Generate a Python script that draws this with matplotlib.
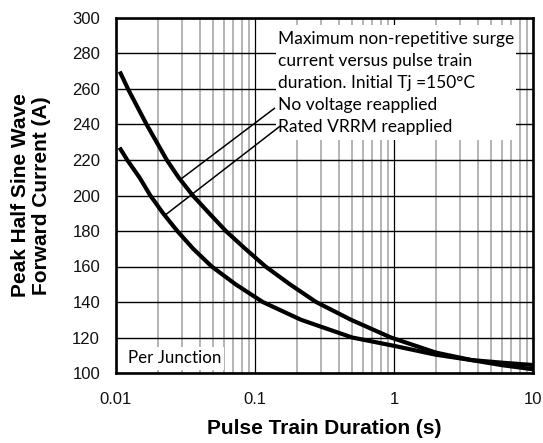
import matplotlib
matplotlib.use("Agg")
import matplotlib.pyplot as plt
from matplotlib.patches import Rectangle

plt.rcParams["font.family"] = "Liberation Sans"

no_volt_t = [0.0108, 0.0122, 0.0166, 0.0232, 0.0283, 0.0357, 0.0468, 0.0617, 0.0851,
             0.119, 0.178, 0.275, 0.49, 0.95, 2.0, 3.6, 6.0, 10.0]
no_volt_i = [268.8, 260, 240, 220, 210, 200, 190, 180, 170,
             160, 150, 140, 130, 120, 111.5, 107.3, 104.4, 102.1]

rated_t = [0.0108, 0.01205, 0.0148, 0.01766, 0.0218, 0.0276, 0.0359, 0.0488, 0.0724,
           0.1137, 0.214, 0.5, 1.0, 2.0, 3.6, 6.0, 10.0]
rated_i = [226, 220, 210, 200, 190, 180, 170, 160, 150,
           140, 130, 120, 115.3, 110.3, 107.3, 105.8, 104.5]

x_ticks = [0.01, 0.1, 1, 10]
x_tick_labels = ["0.01", "0.1", "1", "10"]
y_ticks = list(range(100, 301, 20))

note = ("Maximum non-repetitive surge\ncurrent versus pulse train\n"
        "duration. Initial Tj =150°C\nNo voltage reapplied\nRated VRRM reapplied")


def main():
    fig = plt.figure(figsize=(5.43, 4.43), dpi=100)
    ax = fig.add_axes([116/543, 1-373/443, 417/543, 355/443])

    ax.set_xscale("log")
    ax.set_xlim(0.01, 10)
    ax.set_ylim(100, 300)
    ax.set_xticks(x_ticks)
    ax.set_xticklabels(x_tick_labels)
    ax.set_yticks(y_ticks)
    ax.tick_params(which="both", length=0, labelsize=12, labelcolor="#111111")
    ax.tick_params(axis="y", pad=11.5)
    ax.tick_params(axis="x", pad=13.5)

    ax.set_axisbelow(True)
    ax.grid(which="minor", axis="x", color="#b4b4b4", lw=1.4)
    ax.grid(which="major", axis="x", color="black", lw=0.9)
    ax.grid(which="major", axis="y", color="black", lw=1.0)
    ax.tick_params(which="minor", labelbottom=False)
    for s in ax.spines.values():
        s.set_linewidth(1.9)

    ax.plot(no_volt_t, no_volt_i, color="black", lw=3, zorder=3)
    ax.plot(rated_t, rated_i, color="black", lw=3, zorder=3)

    # white patch behind the note
    ax.add_patch(Rectangle((0.1426, 231.3), 7.5-0.1426, 296-231.3,
                           facecolor="white", edgecolor="none", zorder=2))
    ax.text(0.1426*1.02, 292.5, note, fontsize=12.5, family="Lato",
            va="top", ha="left", linespacing=1.45, zorder=4)

    # pointer lines
    ax.plot([0.138, 0.029], [249.1, 209], color="black", lw=1.1, zorder=4)
    ax.plot([0.150, 0.0226], [238.8, 189], color="black", lw=1.1, zorder=4)

    ax.text(0.0121, 108.3, "Per Junction", fontsize=12.2, family="Lato",
            va="center", ha="left", zorder=4,
            bbox=dict(facecolor="white", edgecolor="none", pad=2.5))

    ax.set_xlabel("Pulse Train Duration (s)", fontsize=15, fontweight="bold", va="top")
    ax.xaxis.set_label_coords(0.5, (373-419)/355)
    ax.set_ylabel("Peak Half Sine Wave\nForward Current (A)", fontsize=15,
                  fontweight="bold", linespacing=1.1)
    ax.yaxis.set_label_coords((51-116)/417, 0.5)

    fig.savefig("out.png", dpi=100)


if __name__ == "__main__":
    main()
